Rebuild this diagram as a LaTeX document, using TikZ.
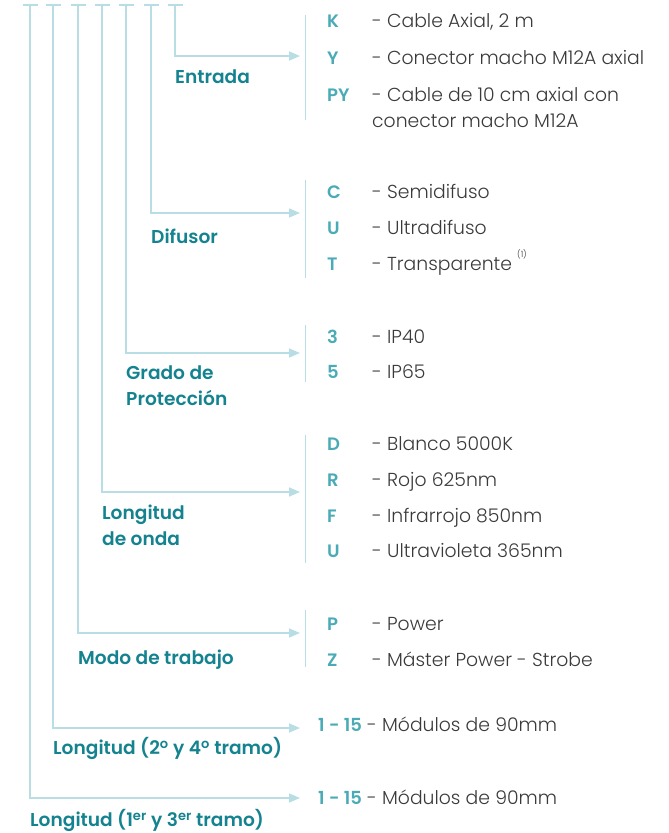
\documentclass[tikz,border=0pt]{standalone}
\usepackage{fontspec}
\setmainfont{Poppins Light}[BoldFont={Poppins SemiBold}]
\usetikzlibrary{arrows.meta}
\definecolor{linec}{HTML}{B8DDE4}
\definecolor{lblc}{HTML}{14838F}
\definecolor{keyc}{HTML}{4AABB7}
\definecolor{txtc}{HTML}{3A3A3A}
\begin{document}
\begin{tikzpicture}[x=1pt,y=-1pt,
  conn/.style={draw=linec,line width=1.6pt,-{Triangle[length=11pt,width=9pt]}},
  tick/.style={draw=linec,line width=1.6pt},
  sep/.style={draw=linec,line width=1.2pt},
  lblm/.style={anchor=west,inner sep=0pt,text=lblc,font=\fontsize{18.6}{26}\selectfont\bfseries,align=left},
  lbl/.style={lblm,text height=14pt,text depth=1pt},
  key/.style={anchor=west,inner sep=0pt,text=keyc,font=\fontsize{18}{20}\selectfont\bfseries,text height=14pt,text depth=1pt},
  descm/.style={anchor=west,inner sep=0pt,text=txtc,font=\fontsize{18.8}{26}\selectfont,align=left},
  desc/.style={descm,text height=14pt,text depth=1pt}]
\useasboundingbox (0,0) rectangle (669,833);
% tick tops
\foreach \n/\x in {1/30,2/53,3/78,4/102,5/126,6/151,7/175}{
  \coordinate (t\n) at (\x,5);
  \draw[tick] (\x-7.5,5) -- (\x+7.5,5);
}
% arrow ends
\coordinate (e7) at (300,56);
\coordinate (e6) at (300,213);
\coordinate (e5) at (300,353);
\coordinate (e4) at (300,492);
\coordinate (e3) at (300,633);
\coordinate (e2) at (300,728);
\coordinate (e1) at (300,798);
\foreach \n in {1,...,7}{\draw[conn] (t\n) |- (e\n);}
% separators
\coordinate (s1a) at (305.5,15);  \coordinate (s1b) at (305.5,120);
\coordinate (s2a) at (305.5,180); \coordinate (s2b) at (305.5,278);
\coordinate (s3a) at (305.5,325); \coordinate (s3b) at (305.5,382);
\coordinate (s4a) at (305.5,435); \coordinate (s4b) at (305.5,563);
\coordinate (s5a) at (305.5,610); \coordinate (s5b) at (305.5,667);
\foreach \n in {1,...,5}{\draw[sep] (s\n a) -- (s\n b);}
% labels
\node[lbl] (lEntrada) at (175,77) {Entrada};
\node[lbl] (lDifusor) at (151,237) {Difusor};
\node[lblm] (lGrado) at (126,386) {Grado de\\Protección};
\node[lblm] (lOnda) at (102,525.5) {Longitud\\de onda};
\node[lbl] (lModo) at (78,658) {Modo de trabajo};
\node[lbl] (lL2) at (53,748) {Longitud (2\textsuperscript{o} y 4\textsuperscript{o} tramo)};
\node[lbl] (lL1) at (30,820) {Longitud (1\textsuperscript{er} y 3\textsuperscript{er} tramo)};
% keys and descriptions
\node[key] (kK) at (327,21) {K};   \node[desc] (dK) at (372,21) {- Cable Axial, 2 m};
\node[key] (kY) at (327,58) {Y};   \node[desc] (dY) at (372,58) {- Conector macho M12A axial};
\node[key] (kPY) at (327,95) {PY}; \node[descm] (dPY) at (372,108) {- Cable de 10 cm axial con\\conector macho M12A};
\node[key] (kC) at (327,192) {C};  \node[desc] (dC) at (372,192) {- Semidifuso};
\node[key] (kU) at (327,228) {U};  \node[desc] (dU) at (372,228) {- Ultradifuso};
\node[key] (kT) at (327,264) {T};  \node[desc] (dT) at (372,264) {- Transparente \smash{\raisebox{1.3ex}{\fontsize{8.5}{9}\selectfont(1)}}};
\node[key] (k3) at (327,337) {3};  \node[desc] (d3) at (372,337) {- IP40};
\node[key] (k5) at (327,372) {5};  \node[desc] (d5) at (372,372) {- IP65};
\node[key] (kD) at (327,444) {D};  \node[desc] (dD) at (372,444) {- Blanco 5000K};
\node[key] (kR) at (327,480) {R};  \node[desc] (dR) at (372,480) {- Rojo 625nm};
\node[key] (kF) at (327,516) {F};  \node[desc] (dF) at (372,516) {- Infrarrojo 850nm};
\node[key] (kU2) at (327,551) {U}; \node[desc] (dU2) at (372,551) {- Ultravioleta 365nm};
\node[key] (kP) at (327,624) {P};  \node[desc] (dP) at (372,624) {- Power};
\node[key] (kZ) at (327,660) {Z};  \node[desc] (dZ) at (372,660) {- Máster Power - Strobe};
\node[key] (k15a) at (318,725) {1 - 15}; \node[desc] (d15a) at (367,725) {- Módulos de 90mm};
\node[key] (k15b) at (318,798) {1 - 15}; \node[desc] (d15b) at (367,798) {- Módulos de 90mm};
\end{tikzpicture}
\end{document}
